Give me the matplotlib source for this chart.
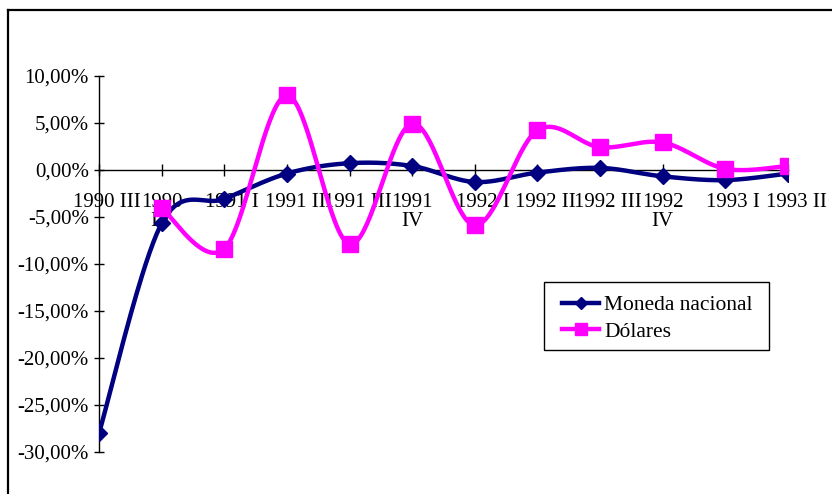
import numpy as np
import matplotlib
matplotlib.use("Agg")
import matplotlib.pyplot as plt
from matplotlib.lines import Line2D
from matplotlib.patches import Rectangle
from matplotlib.ticker import FuncFormatter, MultipleLocator
from matplotlib.transforms import ScaledTranslation

categories = ["1990 III", "1990\nIV", "1991 I", "1991 II", "1991 III", "1991\nIV",
              "1992 I", "1992 II", "1992 III", "1992\nIV", "1993 I", "1993 II"]
moneda_nacional = [-28.0, -5.7, -3.1, -0.4, 0.7, 0.4, -1.3, -0.3, 0.2, -0.7, -1.1, -0.4]
dolares = [np.nan, -4.1, -8.4, 7.9, -7.9, 4.9, -5.9, 4.2, 2.4, 2.9, 0.1, 0.4]
series_names = ["Moneda nacional", "Dólares"]

plt.rcParams['font.family'] = ['Liberation Serif', 'DejaVu Serif']


def smooth(xs, ys, n=40):
    """Excel-like Bezier smoothing (Catmull-Rom control points)."""
    xs = np.asarray(xs, float)
    ys = np.asarray(ys, float)
    m = ~np.isnan(ys)
    xs, ys = xs[m], ys[m]
    px, py = [], []
    k = len(xs)
    for i in range(k - 1):
        x0, y0 = (xs[i - 1], ys[i - 1]) if i > 0 else (xs[i], ys[i])
        x1, y1 = xs[i], ys[i]
        x2, y2 = xs[i + 1], ys[i + 1]
        x3, y3 = (xs[i + 2], ys[i + 2]) if i + 2 < k else (xs[i + 1], ys[i + 1])
        c1x, c1y = x1 + (x2 - x0) / 6, y1 + (y2 - y0) / 6
        c2x, c2y = x2 - (x3 - x1) / 6, y2 - (y3 - y1) / 6
        t = np.linspace(0, 1, n)
        b0, b1, b2, b3 = (1 - t) ** 3, 3 * (1 - t) ** 2 * t, 3 * (1 - t) * t ** 2, t ** 3
        px.append(b0 * x1 + b1 * c1x + b2 * c2x + b3 * x2)
        py.append(b0 * y1 + b1 * c1y + b2 * c2y + b3 * y2)
    return np.concatenate(px), np.concatenate(py)


W, H = 832, 494
fig = plt.figure(figsize=(W / 100, H / 100), dpi=100)
ax = fig.add_axes([99 / W, 1 - 452 / H, (788 - 99) / W, (452 - 75.7) / H])

x = np.arange(len(categories))
navy = "#000080"
magenta = "#FF00FF"

sx, sy = smooth(x, moneda_nacional)
ax.plot(sx, sy, color=navy, lw=3.2, solid_capstyle='round', zorder=3)
ax.plot(x, moneda_nacional, ls='none', marker='D', ms=8.5, color=navy, zorder=4)

sx2, sy2 = smooth(x, dolares)
ax.plot(sx2, sy2, color=magenta, lw=3.2, solid_capstyle='round', zorder=3)
ax.plot(x, dolares, ls='none', marker='s', ms=11, color=magenta, zorder=4)

ax.set_xlim(0, len(categories) - 1)
ax.set_ylim(-30, 10)
ax.yaxis.set_major_locator(MultipleLocator(5))
ax.yaxis.set_major_formatter(FuncFormatter(lambda v, p: f"{v:.2f}%".replace('.', ',')))

ax.spines['top'].set_visible(False)
ax.spines['right'].set_visible(False)
ax.spines['bottom'].set_position(('data', 0))
for s in ('left', 'bottom'):
    ax.spines[s].set_linewidth(1.0)
    ax.spines[s].set_color('black')
    ax.spines[s].set_zorder(2)

ax.set_xticks(x)
ax.set_xticklabels(categories)
ax.tick_params(axis='x', direction='inout', length=8, width=1, pad=12.5, labelsize=15)
ax.tick_params(axis='y', direction='inout', length=7.5, width=1, pad=3.5, labelsize=15)
for lab in ax.get_xticklabels():
    if '\n' not in lab.get_text():
        lab.set_transform(lab.get_transform() + ScaledTranslation(8 / 100, 0, fig.dpi_scale_trans))
    lab.set_linespacing(1.0)

# legend box (frame drawn separately to match Excel padding)
fig.add_artist(Rectangle((544 / W, 1 - 350 / H), (769 - 544) / W, (350 - 282) / H,
                         transform=fig.transFigure, facecolor='white', edgecolor='black',
                         lw=1.0, zorder=5))
handles = [Line2D([], [], color=navy, lw=3.2, marker='D', ms=6),
           Line2D([], [], color=magenta, lw=3.2, marker='s', ms=8)]
leg = fig.legend(handles, series_names, loc='upper left',
                 bbox_to_anchor=(562 / W, 1 - 295 / H), bbox_transform=fig.transFigure,
                 fontsize=15.5, frameon=False,
                 borderpad=0, labelspacing=0.32, handlelength=1.72,
                 handletextpad=0.23, borderaxespad=0)
leg.set_zorder(6)

# outer chart frame
fig.add_artist(Line2D([8 / W, 1], [1 - 10 / H] * 2, transform=fig.transFigure, color='black', lw=1.6))
fig.add_artist(Line2D([8 / W] * 2, [0, 1 - 10 / H], transform=fig.transFigure, color='black', lw=1.6))

fig.savefig("out.png", dpi=100)
